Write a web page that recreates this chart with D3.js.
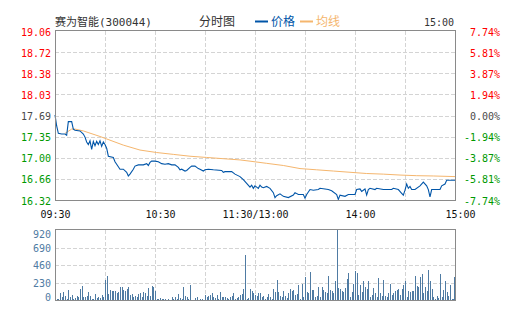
<!DOCTYPE html>
<html><head><meta charset="utf-8">
<script src="https://cdn.jsdelivr.net/npm/d3@7"></script>
<style>body{margin:0;background:#fff} svg{display:block}</style>
</head><body><svg id="c" width="505" height="330"></svg>
<script>
// ---------- DATA ----------
const prevClose = 17.69;
const pctTicks = [7.74, 5.81, 3.87, 1.94, 0, -1.94, -3.87, -5.81, -7.74];
const priceLabels = ["19.06","18.72","18.38","18.03","17.69","17.35","17.00","16.66","16.32"];
const pctLabels = ["7.74%","5.81%","3.87%","1.94%","0.00%","-1.94%","-3.87%","-5.81%","-7.74%"];
const timeTicks = [0, 60, 120, 180, 240];
const timeLabels = ["09:30","10:30","11:30/13:00","14:00","15:00"];
const volTicks = [0, 230, 460, 690, 920];

const priceTime = [
  0,1,2,4,6,7,8,10,11,12,
  15,17,18,19,20,21,22,23,24,25,
  26,27,28,29,30,31,32,35,36,38,
  39,41,43,44,45,47,48,50,53,55,
  56,57,58,60,62,64,66,68,70,72,
  74,75,76,78,79,81,82,84,86,87,
  89,90,92,95,100,101,102,106,108,111,
  113,115,117,118,119,120,121,122,123,124,
  125,127,129,131,132,133,135,137,140,143,
  144,146,149,150,151,153,155,158,159,164,
  166,169,170,171,174,176,180,181,183,184,
  186,187,188,189,192,193,197,202,203,206,
  208,209,210,211,212,213,214,216,219,221,
  223,224,225,226,231,232,234,235,240];
const priceValue = [
  17.70,17.52,17.40,17.39,17.39,17.37,17.59,17.59,17.47,17.45,
  17.44,17.39,17.34,17.26,17.22,17.28,17.14,17.27,17.20,17.27,
  17.22,17.28,17.19,17.26,17.22,17.16,17.03,17.01,16.94,16.86,
  16.82,16.82,16.77,16.71,16.74,16.82,16.87,16.89,16.89,16.91,
  16.88,16.93,16.95,16.95,16.94,16.91,16.90,16.91,16.89,16.89,
  16.85,16.81,16.82,16.79,16.80,16.85,16.87,16.87,16.83,16.82,
  16.79,16.81,16.82,16.81,16.80,16.77,16.78,16.78,16.74,16.70,
  16.65,16.59,16.53,16.56,16.51,16.55,16.53,16.51,16.56,16.53,
  16.52,16.54,16.51,16.44,16.36,16.39,16.42,16.38,16.36,16.40,
  16.44,16.41,16.41,16.35,16.41,16.49,16.48,16.49,16.51,16.49,
  16.47,16.41,16.33,16.40,16.38,16.41,16.41,16.49,16.50,16.46,
  16.50,16.40,16.49,16.51,16.49,16.51,16.49,16.49,16.51,16.49,
  16.43,16.40,16.48,16.58,16.51,16.54,16.49,16.49,16.55,16.61,
  16.55,16.49,16.37,16.49,16.49,16.55,16.58,16.64,16.64];

const avgTime = [6,10,12,17,27,31,41,51,61,71,81,91,101,111,117,127,137,147,157,167,177,187,197,207,217,227,240];
const avgValue = [17.40,17.47,17.47,17.44,17.35,17.31,17.21,17.13,17.09,17.06,17.03,17.01,16.99,16.97,16.95,16.915,16.88,16.83,16.81,16.79,16.77,16.75,16.74,16.725,16.715,16.71,16.70];

const volume = [
  9,9,9,96,35,105,53,18,131,35,
  66,9,22,53,44,145,184,44,35,53,
  105,53,9,9,79,22,44,22,61,35,
  263,315,79,131,123,118,123,96,105,166,
  175,127,118,145,166,66,79,35,53,35,
  79,88,35,105,88,57,158,53,184,166,
  118,9,18,26,9,18,9,0,13,0,
  35,18,35,9,79,22,9,175,57,35,
  9,197,0,0,22,35,0,9,9,0,
  66,35,53,61,88,35,26,66,9,105,
  35,35,35,31,18,35,53,88,18,22,
  35,61,79,149,591,18,26,149,114,88,
  70,53,88,88,35,53,9,35,79,35,
  18,140,105,263,105,53,35,118,53,31,
  96,140,123,131,61,79,197,9,210,35,
  307,105,96,368,131,131,35,53,166,35,
  175,131,105,96,315,131,123,96,254,920,
  158,140,123,105,158,280,359,35,105,210,
  377,350,70,201,105,254,166,140,254,35,
  70,158,96,35,289,88,53,263,53,35,
  96,210,61,96,114,131,149,61,149,201,
  245,35,114,105,114,114,315,184,175,307,
  342,96,175,114,394,245,140,35,18,53,
  26,342,35,131,245,105,53,201,9,9,
  298];

// ---------- DRAW ----------
const svg = d3.select("#c");
const mono = "'DejaVu Sans Mono', 'Liberation Mono', monospace";
const cjk = "'Noto Sans CJK SC', sans-serif";
const gridColor = "#d4d4d4";
const frameColor = "#8a8a8a";
const up = "#ff0000", down = "#009900", flat = "#4a4a4a";

const x = d3.scaleLinear().domain([0, 240]).range([55, 455]);
const y = d3.scaleLinear().domain([prevClose * (1 - 0.0774), prevClose * (1 + 0.0774)]).range([200, 31]);
const yv = d3.scaleLinear().domain([0, 920]).range([300, 230]);
const pctPrice = p => prevClose * (1 + p / 100);

svg.append("rect").attr("width", 505).attr("height", 330).attr("fill", "#fff");

// price grid
const gH = svg.append("g").attr("transform", "translate(55,0)")
  .call(d3.axisRight(y).tickValues(pctTicks.slice(1, -1).map(pctPrice)).tickSize(400).tickFormat(""));
const gV = svg.append("g").attr("transform", "translate(0,31)")
  .call(d3.axisBottom(x).tickValues(d3.range(30, 240, 30)).tickSize(169).tickFormat(""));
// volume grid
const gVH = svg.append("g").attr("transform", "translate(55,0)")
  .call(d3.axisRight(yv).tickValues(volTicks.slice(1, -1)).tickSize(400).tickFormat(""));
const gVV = svg.append("g").attr("transform", "translate(0,230)")
  .call(d3.axisBottom(x).tickValues(d3.range(30, 240, 30)).tickSize(70).tickFormat(""));
[gH, gV, gVH, gVV].forEach(g => {
  g.select(".domain").remove();
  g.selectAll(".tick line").attr("stroke", gridColor).attr("stroke-dasharray", "4,2").attr("shape-rendering", "crispEdges");
});

// volume bars
svg.append("g").selectAll("rect").data(volume).join("rect")
  .attr("x", (d, i) => Math.round(x(i)) - 0.5 + (i === 240 ? -0.5 : 0))
  .attr("y", d => yv(d))
  .attr("width", 1)
  .attr("height", d => 300 - yv(d))
  .attr("fill", "#4f7ba3")
  .attr("shape-rendering", "crispEdges");

// average line
const avgData = avgTime.map((t, i) => [t, avgValue[i]]);
svg.append("path").datum(avgData)
  .attr("fill", "none").attr("stroke", "#f5b66e").attr("stroke-width", 1)
  .attr("d", d3.line().x(d => x(d[0])).y(d => y(d[1])));

// price line
const priceData = priceTime.map((t, i) => [t, priceValue[i]]);
svg.append("path").datum(priceData)
  .attr("fill", "none").attr("stroke", "#0055a8").attr("stroke-width", 1.1)
  .attr("d", d3.line().x(d => x(d[0])).y(d => y(d[1])));

// frames
svg.append("rect").attr("x", 55.5).attr("y", 30.5).attr("width", 400).attr("height", 170)
  .attr("fill", "none").attr("stroke", frameColor);
svg.append("rect").attr("x", 55.5).attr("y", 229.5).attr("width", 400).attr("height", 71)
  .attr("fill", "none").attr("stroke", frameColor);

// left price labels
const colorFor = p => p > 0 ? up : (p < 0 ? down : flat);
const gL = svg.append("g").attr("transform", "translate(55,0)")
  .call(d3.axisLeft(y).tickValues(pctTicks.map(pctPrice)).tickSize(0).tickPadding(4)
    .tickFormat((d, i) => priceLabels[i]));
gL.select(".domain").remove();
gL.selectAll(".tick text").attr("font-family", mono).attr("font-size", 10)
  .attr("fill", (d, i) => colorFor(pctTicks[i])).attr("dy", "0.4em");

// right pct labels
const gR = svg.append("g").attr("transform", "translate(455,0)")
  .call(d3.axisRight(y).tickValues(pctTicks.map(pctPrice)).tickSize(0).tickPadding(45)
    .tickFormat((d, i) => pctLabels[i]));
gR.select(".domain").remove();
gR.selectAll(".tick text").attr("font-family", mono).attr("font-size", 10)
  .attr("text-anchor", "end").attr("fill", (d, i) => colorFor(pctTicks[i])).attr("dy", "0.4em");

// time labels
const gT = svg.append("g").attr("transform", "translate(0,211)")
  .call(d3.axisBottom(x).tickValues(timeTicks).tickSize(0).tickPadding(0)
    .tickFormat((d, i) => timeLabels[i]));
gT.select(".domain").remove();
gT.selectAll(".tick text").attr("font-family", mono).attr("font-size", 10).attr("fill", "#111")
  .attr("dx", (d, i) => (i === 0 || i === 2) ? 0 : 5);

// volume labels
const gVL = svg.append("g").attr("transform", "translate(55,0)")
  .call(d3.axisLeft(yv).tickValues(volTicks).tickSize(0).tickPadding(4));
gVL.select(".domain").remove();
gVL.selectAll(".tick text").attr("font-family", mono).attr("font-size", 10).attr("fill", "#4f7ba3")
  .attr("dy", (d, i) => i === 0 ? "0.05em" : (i === volTicks.length - 1 ? "0.7em" : "0.35em"));

// header
const title = svg.append("text").attr("x", 55).attr("y", 26).attr("fill", "#333");
title.append("tspan").attr("font-family", cjk).attr("font-size", 11).text("赛为智能");
title.append("tspan").attr("font-family", mono).attr("font-size", 11).text("(300044)");
svg.append("text").attr("x", 199).attr("y", 26).attr("font-family", cjk).attr("font-size", 12)
  .attr("fill", "#333").text("分时图");
svg.append("line").attr("x1", 255).attr("x2", 268).attr("y1", 21.5).attr("y2", 21.5)
  .attr("stroke", "#0055a8").attr("stroke-width", 2);
svg.append("text").attr("x", 271).attr("y", 26).attr("font-family", cjk).attr("font-size", 12)
  .attr("fill", "#0055a8").text("价格");
svg.append("line").attr("x1", 300).attr("x2", 313).attr("y1", 21.5).attr("y2", 21.5)
  .attr("stroke", "#f5b66e").attr("stroke-width", 2);
svg.append("text").attr("x", 316).attr("y", 26).attr("font-family", cjk).attr("font-size", 12)
  .attr("fill", "#f5b66e").text("均线");
svg.append("text").attr("x", 454).attr("y", 26).attr("text-anchor", "end").attr("font-family", mono)
  .attr("font-size", 10).attr("fill", "#333").text("15:00");
</script></body></html>
